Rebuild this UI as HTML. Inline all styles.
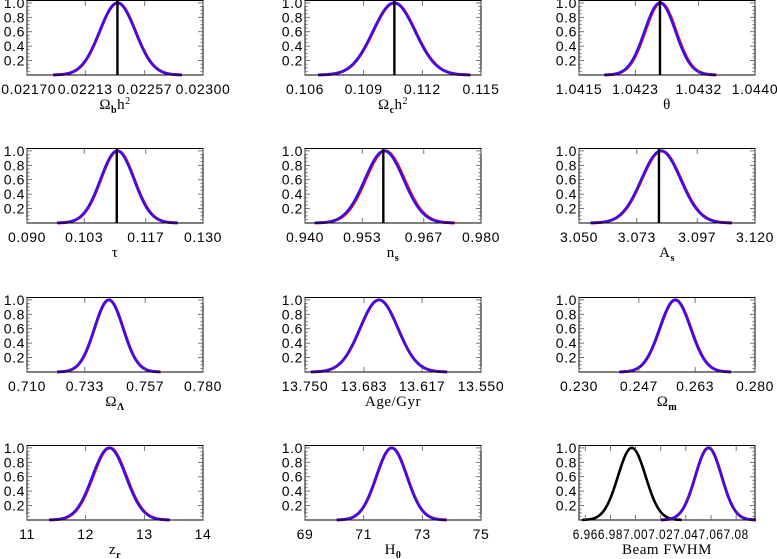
<!DOCTYPE html>
<html><head><meta charset="utf-8">
<style>
html,body{margin:0;padding:0;background:#fff;}
svg{display:block;}
text{font-family:"Liberation Sans",sans-serif;font-size:14px;fill:#000;letter-spacing:0.6px;}
.ttl{font-family:"Liberation Serif",serif;font-size:15px;letter-spacing:0.5px;}
</style></head>
<body>
<svg id="chart" width="777" height="559" viewBox="0 0 777 559" xmlns="http://www.w3.org/2000/svg"></svg>
<script>
// ---- data ----
const paramNames = ["omega-b-h2","omega-c-h2","theta","tau","n-s","a-s","omega-lambda","age","omega-m","z-r","h0","beam-fwhm"];
const xMins = [0.02170,0.106,1.0415,0.090,0.940,3.050,0.710,13.750,0.230,11,69,6.955];
const xMaxs = [0.02300,0.115,1.0440,0.130,0.980,3.120,0.780,13.550,0.280,14,75,7.095];
const tickLabels = [
 ["0.02170","0.02213","0.02257","0.02300"],
 ["0.106","0.109","0.112","0.115"],
 ["1.0415","1.0423","1.0432","1.0440"],
 ["0.090","0.103","0.117","0.130"],
 ["0.940","0.953","0.967","0.980"],
 ["3.050","3.073","3.097","3.120"],
 ["0.710","0.733","0.757","0.780"],
 ["13.750","13.683","13.617","13.550"],
 ["0.230","0.247","0.263","0.280"],
 ["11","12","13","14"],
 ["69","71","73","75"],
 ["6.96","6.98","7.00","7.02","7.04","7.06","7.08"]
];
const blueMeans = [0.022368,0.11055,1.04265,0.1105,0.9580,3.0826,0.7425,13.666,0.2573,12.40,71.95,7.058];
const blueSigmas = [0.000132,0.00108,0.00022,0.0038,0.0044,0.0078,0.0057,0.0215,0.0044,0.285,0.52,0.0105];
const redMeans = [0.022370,0.11057,1.04266,0.1106,0.9582,3.0828,0.7426,13.6658,0.2574,12.41,71.96,7.058];
const redSigmas = [0.000132,0.00108,0.00022,0.0038,0.0044,0.0078,0.0057,0.0215,0.0044,0.285,0.52,0.0105];
const blackLines = [0.022368,0.11057,1.04265,0.1104,0.9578,3.0818,null,null,null,null,null,null];
const blackCurveMeans = [null,null,null,null,null,null,null,null,null,null,null,6.997];
const blackCurveSigmas = [null,null,null,null,null,null,null,null,null,null,null,0.0110];
const yTicks = [0.2,0.4,0.6,0.8,1.0];
const yTickLabels = ["0.2","0.4","0.6","0.8","1.0"];
const titles = [
 ['Ω','b','h','2'],['Ω','c','h','2'],['θ',null,'',null],['τ',null,'',null],['n','s','',null],['A','s','',null],
 ['Ω','Λ','',null],['Age/Gyr',null,'',null],['Ω','m','',null],['z','r','',null],['H','0','',null],['Beam  FWHM',null,'',null]
];
// ---- layout ----
const colX = [27,305,579], rowY = [0,148,297,445], W = 176, H = 75, YMAX = 1.04;
const NS = "http://www.w3.org/2000/svg";
const svg = document.getElementById('chart');
function mk(tag, attrs, parent){const e=document.createElementNS(NS,tag);for(const k in attrs)e.setAttribute(k,attrs[k]);(parent||svg).appendChild(e);return e;}
function gauss(x,m,s){return Math.exp(-0.5*((x-m)/s)*((x-m)/s));}

paramNames.forEach((name,i)=>{
  const x0 = colX[i%3], y0 = rowY[Math.floor(i/3)];
  const g = mk('g',{});
  
  
  const sx = v => x0 + (v - xMins[i])/(xMaxs[i]-xMins[i])*W;
  const sy = v => y0 + H - v/YMAX*H;
  function curve(m,s,color,w,nm){
    const pts=[];
    for(let k=0;k<=160;k++){const v=m-3.6*s+7.2*s*k/160;pts.push(sx(v).toFixed(2)+','+sy(gauss(v,m,s)).toFixed(2));}
    const p=mk('polyline',{points:pts.join(' '),fill:'none',stroke:color,'stroke-width':w,'stroke-linejoin':'round'},g);
    
    
  }
  if(blackCurveMeans[i]!==null) curve(blackCurveMeans[i],blackCurveSigmas[i],'#000',2.6,'black-curve');
  curve(redMeans[i],redSigmas[i],'#ff0000',3,'red-curve');
  curve(blueMeans[i],blueSigmas[i],'#3a10e8',2.6,'blue-curve');
  if(blackLines[i]!==null){
    const l=mk('line',{x1:sx(blackLines[i]),x2:sx(blackLines[i]),y1:sy(YMAX)+1,y2:y0+H,stroke:'#000','stroke-width':2.4},g);
    
    
  }
  const b=mk('rect',{x:x0,y:y0+0.5,width:W,height:H-0.5,fill:'none',stroke:'#000','stroke-width':1},g);
  
  
  for(let k=1;k<=20;k++){
    const v=k*0.05, yy=sy(v); if(yy<y0) continue;
    const len = (k%4===0)?5:2.5;
    mk('line',{x1:x0,x2:x0+len,y1:yy,y2:yy,stroke:'#555','stroke-width':0.8},g);
    mk('line',{x1:x0+W,x2:x0+W-len,y1:yy,y2:yy,stroke:'#555','stroke-width':0.8},g);
  }
  yTicks.forEach((v,k)=>{
    const t=mk('text',{x:x0-2,y:sy(v)+5,'text-anchor':'end'},g);
    t.textContent=yTickLabels[k];
    
    
  });
  const labs = tickLabels[i];
  labs.forEach((lab,k)=>{
    const v = parseFloat(lab);
    const xx = sx(v);
    mk('line',{x1:xx,x2:xx,y1:y0+H,y2:y0+H-5,stroke:'#555','stroke-width':0.8},g);
    mk('line',{x1:xx,x2:xx,y1:y0+1,y2:y0+6,stroke:'#555','stroke-width':0.8},g);
    const t=mk('text',{x:Math.max(xx, lab.length*4.1),y:y0+H+19,'text-anchor':'middle'},g);
    t.textContent=lab;
    if(i===11){t.setAttribute('textLength','25');t.setAttribute('lengthAdjust','spacingAndGlyphs');}
    
    
  });
  const tt = titles[i];
  const t=mk('text',{x:x0+W/2,y:y0+H+34,'text-anchor':'middle','class':'ttl'},g);
  
  
  const s1=mk('tspan',{},t); s1.textContent=tt[0];
  if(tt[1]!==null){const s2=mk('tspan',{dy:4,'font-size':'10px','font-weight':'bold'},t); s2.textContent=tt[1];}
  if(tt[2]){const s3=mk('tspan',{dy:-4},t); s3.textContent=tt[2];}
  if(tt[3]!==null){const s4=mk('tspan',{dy:-5,'font-size':'10px'},t); s4.textContent=tt[3];}
});
</script>
</body></html>
